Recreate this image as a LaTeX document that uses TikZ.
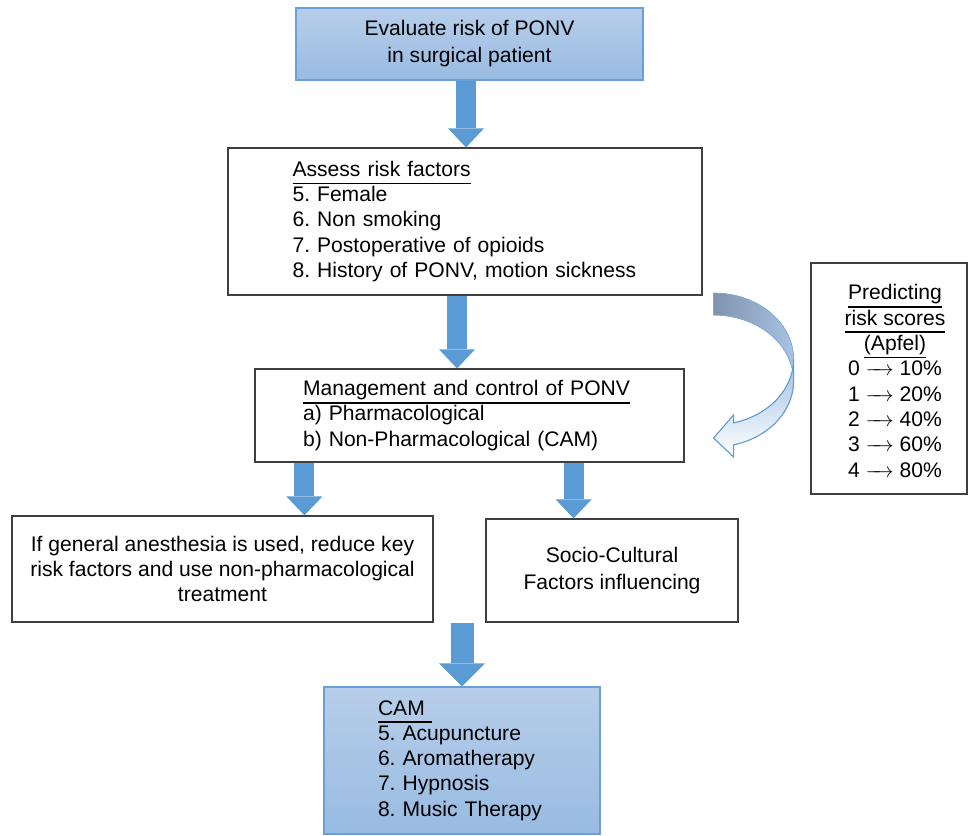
\documentclass[tikz,border=0pt]{standalone}
\usepackage{fontspec}
\setmainfont{Liberation Sans}
\usetikzlibrary{arrows.meta,calc}
\definecolor{arrowblue}{HTML}{5B9BD5}
\definecolor{boxtop}{HTML}{B7CEEA}
\definecolor{boxbot}{HTML}{98BBE2}
\definecolor{boxedge}{HTML}{6A9FD8}
\definecolor{framegray}{HTML}{3F3F3F}
\definecolor{ribbondark}{HTML}{7F93AC}
\definecolor{ribbonlight}{HTML}{A9C3E4}
\frenchspacing
\newcommand{\ulined}[1]{\leavevmode\setbox0\hbox{#1}%
	\rlap{\rule[-4.5pt]{\wd0}{1pt}}\box0}
\newcommand{\scoreto}{$\relbar\mkern-8mu\rightarrow$}
\tikzset{
    every node/.style={font=\fontsize{12}{14.4}\selectfont, inner sep=0pt}
}
\tikzset{
    plainbox/.style={rectangle, draw=framegray, line width=0.7pt},
    bluebox/.style={rectangle, draw=boxedge, line width=0.8pt,
    	top color=boxtop, bottom color=boxbot}
}
\tikzset{
    blockarrow/.style={color=arrowblue, line width=0.4cm,
    	-{Triangle[length=0.38cm, width=0.72cm, line width=0pt]}},
    bigarrow/.style={color=arrowblue, line width=0.46cm,
    	-{Triangle[length=0.46cm, width=0.92cm, line width=0pt]}}
}

\begin{document}
\begin{tikzpicture}[x=0.02cm, y=-0.02cm]
	\useasboundingbox (0,0) rectangle (969,835);
	\node [bluebox, minimum width=6.94cm, minimum height=1.44cm, align=center]
		(evaluate) at (469.5,44) {Evaluate risk of PONV\\[1pt]in surgical patient};
	\node [plainbox, minimum width=9.48cm, minimum height=2.94cm,
		text width=6.9cm, align=left] (risk) at (465,221.5)
		{\ulined{Assess risk factors}\\5. Female\\6. Non smoking\\
		7. Postoperative of opioids\\8. History of PONV, motion sickness};
	\node [plainbox, minimum width=8.58cm, minimum height=1.86cm,
		text width=6.66cm, align=left] (manage) at (469.5,415.5)
		{\ulined{Management and control of PONV}\\a) Pharmacological\\
		b) Non-Pharmacological (CAM)};
	\node [plainbox, minimum width=8.42cm, minimum height=2.12cm, align=center]
		(general) at (222.5,569) {If general anesthesia is used, reduce key\\
		risk factors and use non-pharmacological\\treatment};
	\node [plainbox, minimum width=5.04cm, minimum height=2.06cm, align=center]
		(socio) at (612,570.5) {Socio-Cultural\\[1pt]Factors influencing};
	\node [bluebox, minimum width=5.52cm, minimum height=2.94cm,
		text width=3.36cm, align=left] (cam) at (462,760.5)
		{\ulined{CAM\ }\\5. Acupuncture\\6. Aromatherapy\\7. Hypnosis\\
		8. Music Therapy};
	\node [plainbox, minimum width=3.12cm, minimum height=4.62cm]
		(apfel) at (889,378.5) {};
	\node [align=center] (apfeltext) at ($(apfel.center)+(6,2.5)$)
		{\ulined{Predicting}\\\ulined{risk scores}\\\ulined{(Apfel)}\\
		0 \scoreto{} 10\%\\1 \scoreto{} 20\%\\2 \scoreto{} 40\%\\
		3 \scoreto{} 60\%\\4 \scoreto{} 80\%};
	% block arrows between the boxes
	\coordinate (a1) at ([xshift=-0.07cm]evaluate.south);
	\coordinate (a2) at ([xshift=-0.16cm]risk.south);
	\coordinate (a3) at ([xshift=1cm]manage.south west);
	\coordinate (a4) at ([xshift=-2.22cm]manage.south east);
	\coordinate (a5) at (cam.north |- general.south);
	\draw [blockarrow] (a1) -- (a1 |- risk.north);
	\draw [blockarrow] (a2) -- (a2 |- manage.north);
	\draw [blockarrow] (a3) -- (a3 |- general.north);
	\draw [blockarrow] (a4) -- (a4 |- socio.north);
	\draw [bigarrow] (a5) -- (cam.north);
	% curved ribbon arrow
	\begin{scope}[shift={(risk.east)}]
		\filldraw [draw=arrowblue!80, line width=0.4pt,
			left color=ribbondark, right color=ribbonlight]
			plot [domain=-90:0, samples=25] ({11+80*cos(\x)}, {137.5+66*sin(\x)})
			-- plot [domain=0:-90, samples=25] ({11+80*cos(\x)}, {159.5+66*sin(\x)})
			-- cycle;
		\filldraw [draw=arrowblue, line width=0.6pt,
			top color=ribbonlight!90!arrowblue, bottom color=white]
			plot [domain=0:75.5, samples=25] ({11+80*cos(\x)}, {137.5+66*sin(\x)})
			-- (31,193.5) -- (11,216.5) -- (31,235.5)
			-- plot [domain=75.5:0, samples=25] ({11+80*cos(\x)}, {159.5+66*sin(\x)})
			-- cycle;
	\end{scope}
\end{tikzpicture}
\end{document}
